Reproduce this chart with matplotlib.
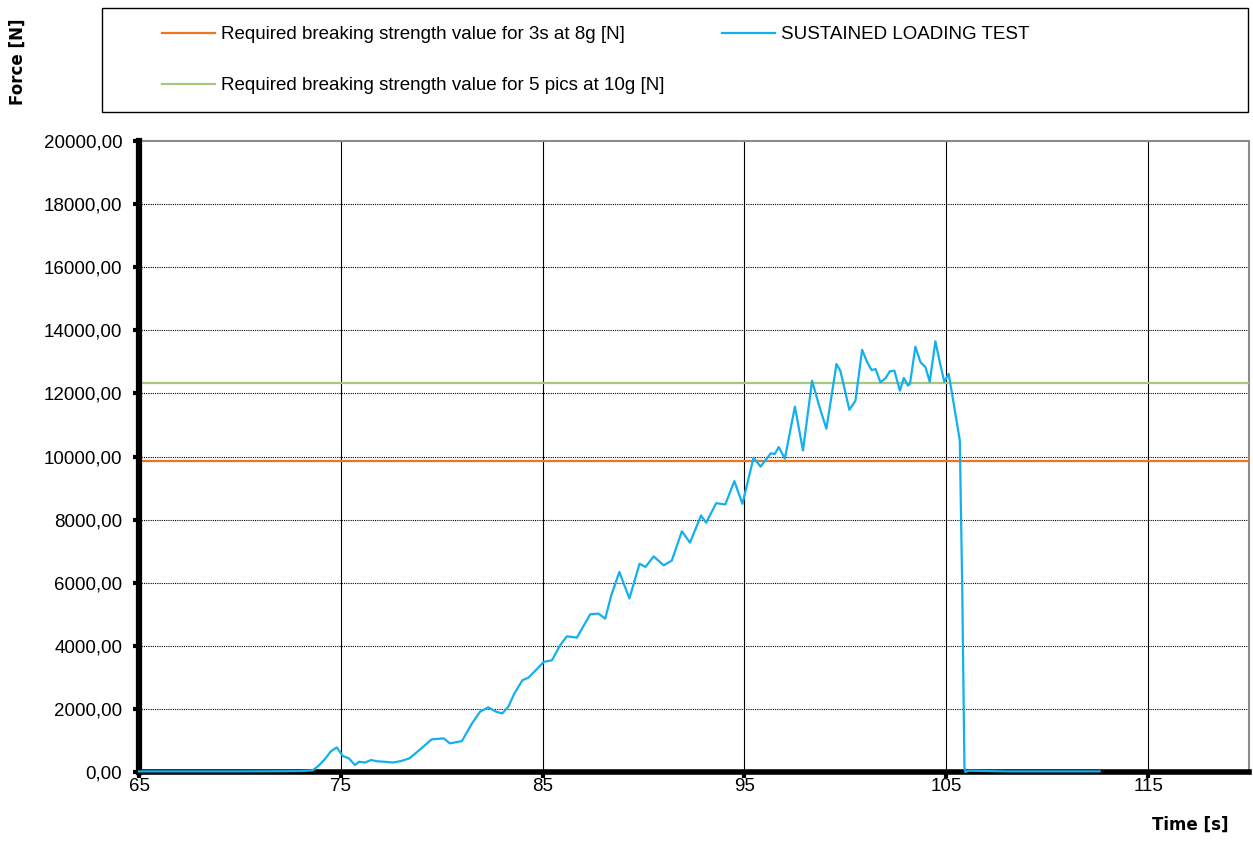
import matplotlib.pyplot as plt
import numpy as np
from matplotlib import patches
from matplotlib.lines import Line2D
from matplotlib.ticker import FuncFormatter

plt.rcParams["font.family"] = ["Liberation Sans", "DejaVu Sans"]

# values
time_s = [65.0, 70.0, 72.0, 73.0, 73.6, 73.9, 74.2, 74.5, 74.8, 75.1, 75.4, 75.7,
          75.9, 76.2, 76.5, 76.8, 77.1, 77.6, 78.0, 78.4, 78.9, 79.5, 80.1, 80.4,
          81.0, 81.5, 81.9, 82.3, 82.7, 83.0, 83.3, 83.6, 84.0, 84.3, 84.7, 85.05,
          85.46, 85.87, 86.2, 86.7, 87.0, 87.36, 87.77, 88.1, 88.4, 88.8, 89.3,
          89.8, 90.1, 90.5, 91.0, 91.4, 91.9, 92.3, 92.85, 93.1, 93.6, 94.05, 94.5,
          94.9, 95.45, 95.8, 96.3, 96.5, 96.7, 97.0, 97.5, 97.9, 98.35, 98.7,
          99.06, 99.56, 99.75, 100.2, 100.5, 100.83, 101.08, 101.3, 101.5, 101.74,
          102.0, 102.2, 102.43, 102.7, 102.9, 103.1, 103.2, 103.47, 103.72, 103.97,
          104.18, 104.46, 104.7, 104.9, 105.12, 105.37, 105.67, 105.79, 105.9,
          105.95, 106.1, 108.0, 110.0, 112.6]
force_n = [20, 20, 25, 30, 50, 200, 400, 650, 780, 506, 433, 220,
           327, 300, 380, 340, 327, 300, 350, 433, 700, 1034, 1066, 907,
           980, 1540, 1910, 2050, 1910, 1857, 2070, 2490, 2910, 2990, 3250, 3490,
           3540, 4020, 4300, 4260, 4600, 5000, 5020, 4860, 5600, 6340, 5500,
           6600, 6500, 6835, 6550, 6700, 7630, 7270, 8130, 7900, 8520, 8480, 9220,
           8500, 9960, 9680, 10100, 10080, 10300, 9930, 11580, 10190, 12400, 11610,
           10880, 12930, 12720, 11480, 11770, 13380, 12990, 12740, 12770, 12350,
           12490, 12700, 12720, 12090, 12490, 12250, 12300, 13480, 12990, 12830,
           12370, 13650, 12930, 12370, 12620, 11670, 10510, 5860, 170,
           0, 40, 20, 20, 20]

req_3s_8g = 9850
req_5pics_10g = 12320

labels = ["Required breaking strength value for 3s at 8g [N]",
          "Required breaking strength value for 5 pics at 10g [N]",
          "SUSTAINED LOADING TEST"]
x_ticks = [65, 75, 85, 95, 105, 115]
y_ticks = np.arange(0, 20001, 2000)

c_orange = "#EE7420"
c_green = "#A8C77E"
c_blue = "#12B0EE"

fig = plt.figure(figsize=(12.53, 8.65), dpi=100)
ax = fig.add_axes([139 / 1253, 93 / 865, 1110 / 1253, 631 / 865])

ax.set_xlim(65, 120)
ax.set_ylim(0, 20000)

ax.axhline(req_3s_8g, color=c_orange, lw=1.6, zorder=3)
ax.axhline(req_5pics_10g, color=c_green, lw=1.6, zorder=3)
ax.plot(time_s, force_n, color=c_blue, lw=1.6, zorder=5, clip_on=False,
        solid_joinstyle="round")

ax.set_xticks(x_ticks)
ax.set_yticks(y_ticks)
ax.yaxis.set_major_formatter(FuncFormatter(lambda v, p: f"{v:.2f}".replace(".", ",")))
ax.tick_params(axis="both", direction="out", length=4, width=3, labelsize=13.5,
               colors="black")
ax.tick_params(axis="y", pad=8)
ax.tick_params(axis="x", pad=0)

for y in y_ticks[1:-1]:
    ax.axhline(y, color="black", lw=0.8, ls=(0, (1, 1)), zorder=1)
for x in x_ticks[1:]:
    ax.axvline(x, color="black", lw=0.8, zorder=1)

ax.spines["left"].set_linewidth(4.5)
ax.spines["bottom"].set_linewidth(4)
ax.spines["left"].set_zorder(4)
ax.spines["bottom"].set_zorder(4)
for side in ["top", "right"]:
    ax.spines[side].set_color("#8c8c8c")
    ax.spines[side].set_linewidth(1.5)

fig.text(18 / 1253, 1 - 62 / 865, "Force [N]", rotation=90, ha="center",
         va="center", fontsize=12, fontweight="bold", family="DejaVu Sans")
fig.text(1228 / 1253, 1 - 825 / 865, "Time [s]", ha="right", va="center",
         fontsize=12, fontweight="bold", family="DejaVu Sans")

# legend box
fig.patches.append(patches.Rectangle((102 / 1253, 1 - 112 / 865), 1146 / 1253,
                                     104 / 865, transform=fig.transFigure,
                                     fill=False, edgecolor="black", lw=1))
handles = [Line2D([], [], color=c_orange, lw=1.6),
           Line2D([], [], color=c_green, lw=1.6),
           Line2D([], [], color=c_blue, lw=1.6)]
fig.legend(handles, labels, ncol=2, frameon=False, loc="upper left",
           bbox_to_anchor=(162 / 1253, 1 - 26 / 865), borderpad=0,
           borderaxespad=0, handlelength=2.83, handletextpad=0.32,
           labelspacing=1.82, columnspacing=3.04, fontsize=13.5)

fig.savefig("out.png", dpi=100)
